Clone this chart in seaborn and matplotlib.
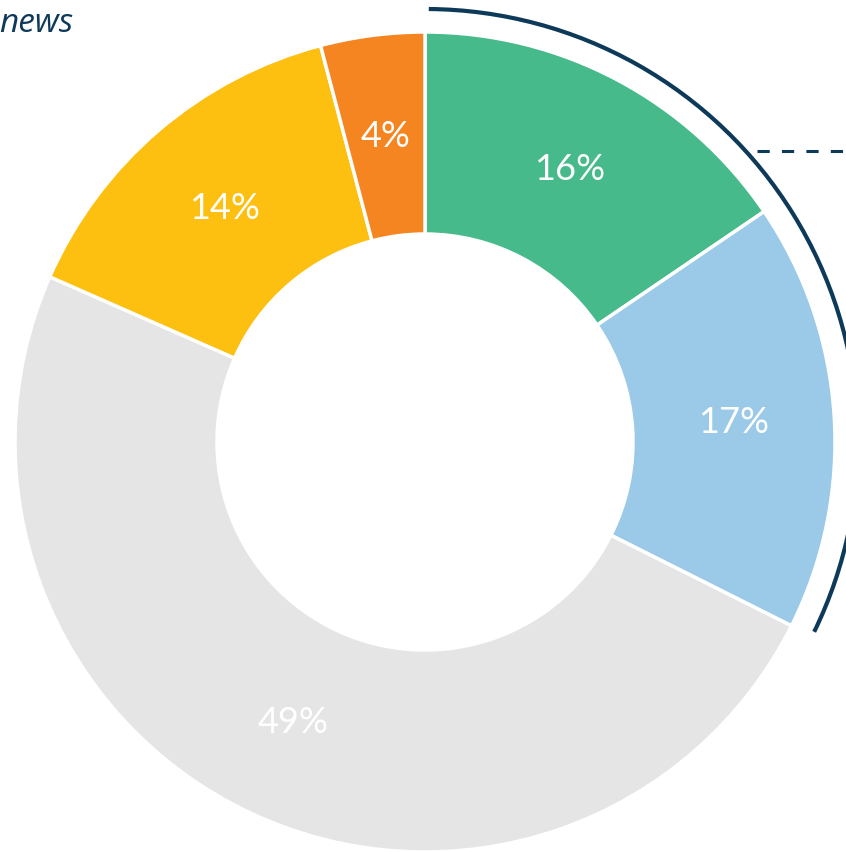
import matplotlib
matplotlib.use("Agg")
import matplotlib.pyplot as plt
import seaborn as sns
import numpy as np
from matplotlib.patches import Arc

# data (shares, labels as printed)
categories = ["Green", "Blue", "Grey", "Yellow", "Orange"]
values = [15.5, 16.9, 49.2, 14.3, 4.1]
labels = ["16%", "17%", "49%", "14%", "4%"]
colors = ["#46BA8A", "#9BCAE8", "#E5E5E5", "#FDC010", "#F58520"]
navy = "#0E3A5A"

sns.set_theme(style="white")
plt.rcParams["font.family"] = ["Lato", "DejaVu Sans"]

W, H = 846, 853
fig = plt.figure(figsize=(W / 100, H / 100), dpi=100)
ax = fig.add_axes([0, 0, 1, 1])

cx, cy = 425, H - 443
r_out, r_in = 410, 208

wedges, _ = ax.pie(values, colors=colors, startangle=90, counterclock=False,
                   radius=r_out, center=(cx, cy),
                   wedgeprops=dict(width=r_out - r_in, edgecolor="white", linewidth=2.5))

# percentage labels in the middle of the ring
r_lab = (r_out + r_in) / 2
for w, lab in zip(wedges, labels):
    ang = np.deg2rad((w.theta1 + w.theta2) / 2)
    ax.text(cx + r_lab * np.cos(ang), cy + r_lab * np.sin(ang), lab,
            ha="center", va="center", color="white", fontsize=26)

# bracket arc around the first two slices + dashed leader
arc = Arc((cx, cy), 2 * 433, 2 * 433, theta1=-26, theta2=89.5, color=navy, lw=3)
ax.add_patch(arc)
ax.plot([757, W], [H - 152, H - 152], color=navy, lw=2.2, ls=(0, (4, 4)))

ax.text(73, H - 32, "news", ha="right", va="baseline", color=navy,
        fontsize=24, style="italic", family=["Open Sans", "DejaVu Sans"])

ax.set_xlim(0, W)
ax.set_ylim(0, H)
ax.set_aspect("equal")
ax.axis("off")

fig.savefig("out.png", dpi=100)
